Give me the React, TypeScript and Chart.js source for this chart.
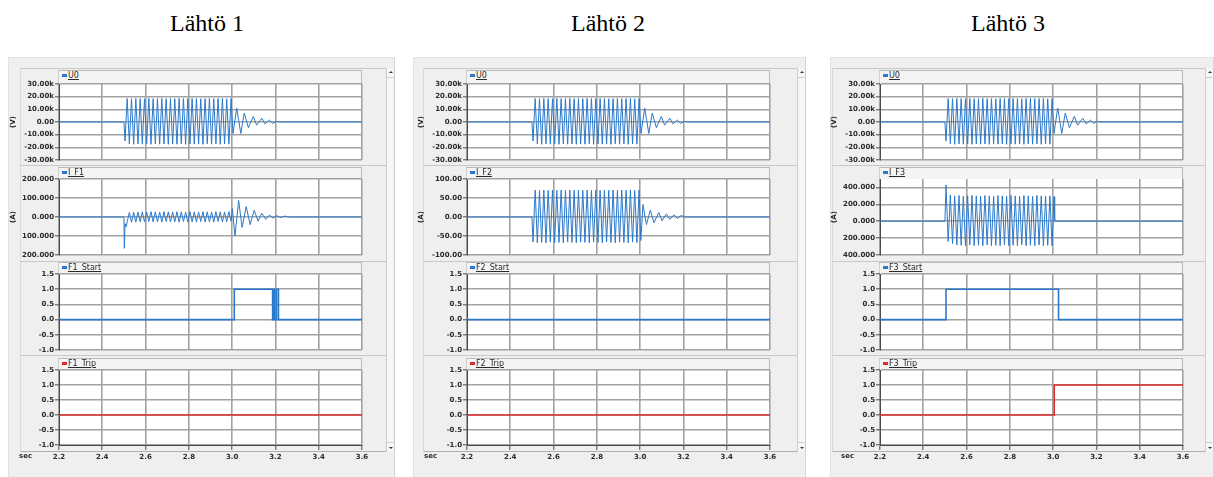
import React, { useEffect, useRef } from 'react';
import { Chart, registerables } from 'chart.js';

Chart.register(...registerables);

// ---------------- data ----------------
const TIME_START = 2.2;
const TIME_END = 3.6;
const X_TICKS = [2.2, 2.4, 2.6, 2.8, 3.0, 3.2, 3.4, 3.6];
const PANEL_TITLES = ['Lähtö 1', 'Lähtö 2', 'Lähtö 3'];
const SIGNAL_NAMES = [
  ['U0', 'I_F1', 'F1_Start', 'F1_Trip'],
  ['U0', 'I_F2', 'F2_Start', 'F2_Trip'],
  ['U0', 'I_F3', 'F3_Start', 'F3_Trip'],
];
const U0_TICKS = [-30000, -20000, -10000, 0, 10000, 20000, 30000];
const I_F1_TICKS = [-200, -100, 0, 100, 200];
const I_F2_TICKS = [-100, -50, 0, 50, 100];
const I_F3_TICKS = [-400, -200, 0, 200, 400];
const BIN_TICKS = [-1, -0.5, 0, 0.5, 1, 1.5];

// sampling grid of the fault waveforms: one value per half cycle (50 Hz)
const HALF_CYCLE = 0.01;
const FAULT_ON = 2.5;

// U0 (same in all three recordings), half-cycle extremes from 2.505 s
const U0_FAULT = [
  -15000, 18500, -17200, 18400, -17600, 18600, -17300, 18500, -17500, 18300,
  -17400, 18600, -17600, 18400, -17200, 18500, -17500, 18600, -17300, 18400,
  -17600, 18500, -17400, 18300, -17500, 18600, -17200, 18500, -17600, 18400,
  -17300, 18600, -17500, 18500, -17400, 18300, -17600, 18500, -17200, 18600,
  -17500, 18400, -17300, 18500, -17600, 18600, -17400, 18300, -17500, 18500,
];
const U0_DECAY: number[][] = [
  [3.004, -9000], [3.021, 11000], [3.04, -9000], [3.056, 7000], [3.075, -4500],
  [3.098, 4500], [3.113, -2500], [3.137, 3000], [3.152, -1500], [3.172, 1500],
  [3.187, -1000], [3.206, 500], [3.22, 0],
];

// I_F1
const I_F1_ONSET: number[][] = [[2.502, -165], [2.505, -35], [2.51, -52], [2.516, -20]];
const I_F1_FAULT_START = 2.525;
const I_F1_FAULT = [
  24, -28, 25, -27, 26, -25, 27, -26, 26, -24, 28, -26, 27, -25, 26, -27,
  28, -24, 27, -26, 26, -25, 28, -27, 27, -24, 26, -26, 28, -25, 27, -27,
  26, -24, 28, -26, 27, -25, 26, -27, 28, -24, 27, -26, 26, -25, 28, -22,
];
const I_F1_DECAY: number[][] = [
  [3.001, 45], [3.013, -100], [3.03, 87], [3.046, -55], [3.065, 55], [3.083, -40],
  [3.102, 35], [3.12, -22], [3.137, 20], [3.155, -12], [3.172, 10], [3.19, -6],
  [3.206, 7], [3.225, -3], [3.244, 5], [3.26, 0],
];

// I_F2, half-cycle extremes from 2.505 s
const I_F2_FAULT = [
  -66, 71, -68, 70, -67, 71, -68, 70, -66, 71, -68, 70, -67, 71, -68, 70,
  -66, 71, -67, 70, -68, 71, -66, 70, -67, 71, -68, 70, -66, 71, -67, 70,
  -68, 71, -66, 70, -67, 71, -68, 70, -66, 71, -67, 70, -68, 71, -66, 70,
  -67, 71,
];
const I_F2_DECAY: number[][] = [
  [3.003, -62], [3.013, 33], [3.029, -20], [3.047, 18], [3.064, -15], [3.086, 12],
  [3.101, -10], [3.121, 8], [3.137, -6], [3.157, 6], [3.172, -4], [3.19, 4], [3.206, 0],
];

// I_F3, half-cycle extremes from 2.505 s
const I_F3_FAULT = [
  430, -240, 310, -265, 300, -280, 305, -285, 295, -290, 300, -280, 305, -290,
  300, -285, 295, -290, 305, -280, 300, -290, 295, -285, 305, -290, 300, -280,
  295, -290, 305, -285, 300, -290, 295, -280, 305, -290, 300, -285, 295, -290,
  305, -280, 300, -290, 295, -285, 300, -290,
];
const I_F3_END: number[][] = [[3.004, 290], [3.007, 0]];

// binary signals: [time, level] at each change
const F1_START: number[][] = [[2.2, 0], [3.01, 1], [3.187, 0], [3.192, 1], [3.196, 0], [3.205, 1], [3.214, 0], [3.6, 0]];
const F1_TRIP: number[][] = [[2.2, 0], [3.6, 0]];
const F2_START: number[][] = [[2.2, 0], [3.6, 0]];
const F2_TRIP: number[][] = [[2.2, 0], [3.6, 0]];
const F3_START: number[][] = [[2.2, 0], [2.505, 1], [3.025, 0], [3.6, 0]];
const F3_TRIP: number[][] = [[2.2, 0], [3.005, 1], [3.6, 1]];

// ---------------- styling / layout ----------------
const BLUE = '#2b79cc';
const RED = '#dc2b2b';
const GRID = '#a2a2a2';
const AXIS = '#4a4a4a';
const TXT = '#2a2a2a';
const FONT = { family: '"DejaVu Sans", sans-serif', size: 7, weight: 'bold' };

const ROWS = [
  { frameT: 68, headT: 70, plotT: 84, plotB: 160 },
  { frameT: 165, headT: 167, plotT: 179, plotB: 255 },
  { frameT: 261, headT: 262, plotT: 274, plotB: 350 },
  { frameT: 355, headT: 358, plotT: 370, plotB: 445 },
];
const FRAME_BOTTOM = 452;
const PLOT_W = 303;
const PANEL_LAYOUT = [
  { boxL: 8, boxR: 395, frameL: 20, plotL: 59, titleX: 207 },
  { boxL: 413, boxR: 806, frameL: 423, plotL: 467, titleX: 608 },
  { boxL: 830, boxR: 1214, frameL: 832, plotL: 880, titleX: 1008 },
];

// ---------------- helpers ----------------
function grid(t0: number, values: number[]): number[][] {
  return values.map((v, i) => [t0 + i * HALF_CYCLE, v]);
}
function wave(parts: number[][][]): { x: number; y: number }[] {
  const pts: number[][] = [[TIME_START, 0], [FAULT_ON, 0]];
  parts.forEach((p) => pts.push(...p));
  pts.push([TIME_END, 0]);
  return pts.map(([x, y]) => ({ x, y }));
}
const toXY = (arr: number[][]) => arr.map(([x, y]) => ({ x, y }));

const fmtK = (v: number) => (v === 0 ? '0.00' : (v / 1000).toFixed(2) + 'k');
const fmtAbs3 = (v: number) => Math.abs(v).toFixed(3);
const fmt2 = (v: number) => v.toFixed(2);
const fmt1 = (v: number) => v.toFixed(1);

function rowsFor(i: number) {
  const u0 = {
    points: wave([grid(FAULT_ON + HALF_CYCLE / 2, U0_FAULT), U0_DECAY]),
    color: BLUE, width: 1, stepped: false,
    yMin: -30000, yMax: 30000, ticks: U0_TICKS, fmt: fmtK, title: '(V)',
  };
  const bin = { yMin: -1, yMax: 1.5, ticks: BIN_TICKS, fmt: fmt1, title: '', stepped: true, width: 1.6 };
  let cur: any;
  let start: number[][];
  let trip: number[][];
  if (i === 0) {
    cur = {
      points: wave([I_F1_ONSET, grid(I_F1_FAULT_START, I_F1_FAULT), I_F1_DECAY]),
      yMin: -200, yMax: 200, ticks: I_F1_TICKS, fmt: fmtAbs3,
    };
    start = F1_START; trip = F1_TRIP;
  } else if (i === 1) {
    cur = {
      points: wave([grid(FAULT_ON + HALF_CYCLE / 2, I_F2_FAULT), I_F2_DECAY]),
      yMin: -100, yMax: 100, ticks: I_F2_TICKS, fmt: fmt2,
    };
    start = F2_START; trip = F2_TRIP;
  } else {
    cur = {
      points: wave([grid(FAULT_ON + HALF_CYCLE / 2, I_F3_FAULT), I_F3_END]),
      yMin: -400, yMax: 500, ticks: I_F3_TICKS, fmt: fmtAbs3,
    };
    start = F3_START; trip = F3_TRIP;
  }
  return [
    u0,
    { ...cur, color: BLUE, width: 1, stepped: false, title: '(A)' },
    { ...bin, points: toXY(start), color: BLUE },
    { ...bin, points: toXY(trip), color: RED },
  ];
}

const bgPlugin = {
  id: 'plotBg',
  beforeDraw(chart: any) {
    const { ctx, chartArea: a } = chart;
    ctx.save();
    ctx.fillStyle = '#ffffff';
    ctx.fillRect(a.left, a.top, a.right - a.left, a.bottom - a.top);
    ctx.restore();
  },
};

function Plot(props: any) {
  const { left, top, w, h, cfg, showX } = props;
  const ref = useRef<HTMLCanvasElement>(null);
  const AXW = 54, PR = 12, PT = 8;
  const PB = showX ? 0 : 8;
  const XH = showX ? 24 : 0;
  const cw = AXW + w + PR;
  const ch = PT + h + PB + XH;

  useEffect(() => {
    if (!ref.current) return;
    const chart = new Chart(ref.current, {
      type: 'line',
      data: {
        datasets: [
          {
            data: cfg.points,
            borderColor: cfg.color,
            borderWidth: cfg.width,
            pointRadius: 0,
            tension: 0,
            stepped: cfg.stepped ? 'before' : false,
            fill: false,
          },
        ],
      },
      options: {
        animation: false,
        responsive: false,
        events: [],
        layout: { padding: { top: PT, right: PR, bottom: PB, left: 0 } },
        plugins: { legend: { display: false }, tooltip: { enabled: false } },
        scales: {
          x: {
            type: 'linear',
            min: TIME_START,
            max: TIME_END,
            afterBuildTicks: (s: any) => { s.ticks = X_TICKS.map((v) => ({ value: v })); },
            afterFit: (s: any) => { s.height = XH; },
            grid: { color: GRID, lineWidth: 1.6, drawTicks: showX, tickLength: 5, tickColor: AXIS, tickWidth: 1 },
            border: { display: showX, color: AXIS, width: 1 },
            ticks: {
              display: showX, font: FONT, color: TXT, padding: 3, maxRotation: 0, autoSkip: false,
              callback: (v: any) => Number(v).toFixed(1),
            },
          },
          y: {
            type: 'linear',
            min: cfg.yMin,
            max: cfg.yMax,
            afterBuildTicks: (s: any) => { s.ticks = cfg.ticks.map((v: number) => ({ value: v })); },
            afterFit: (s: any) => { s.width = AXW; },
            grid: { color: GRID, lineWidth: 1.6, drawTicks: true, tickLength: 4, tickColor: AXIS, tickWidth: 1 },
            border: { display: true, color: AXIS, width: 1 },
            ticks: { font: FONT, color: TXT, padding: 1, autoSkip: false, callback: (v: any) => cfg.fmt(Number(v)) },
            title: cfg.title
              ? { display: true, text: cfg.title, font: FONT, color: TXT, padding: { top: 4, bottom: 0 } }
              : { display: false },
          },
        },
      } as any,
      plugins: [bgPlugin],
    });
    return () => chart.destroy();
  }, []);

  return (
    <canvas
      ref={ref}
      width={cw}
      height={ch}
      style={{ position: 'absolute', left: left - AXW, top: top - PT, width: cw, height: ch, display: 'block' }}
    />
  );
}

function Header({ left, top, w, h, name, color }: any) {
  return (
    <div
      style={{
        position: 'absolute', left: left - 1, top, width: w + 1, height: h,
        boxSizing: 'border-box', background: '#f4f4f4',
        borderTop: '1px solid #b9b9b9', borderRight: '1px solid #b9b9b9', borderLeft: '1px solid #d0d0d0',
      }}
    >
      <div style={{ position: 'absolute', left: 3, top: 3, width: 5, height: 3, background: color }} />
      <div
        style={{
          position: 'absolute', left: 9, top: 0, font: '8px "DejaVu Sans", sans-serif', lineHeight: '10px',
          color: TXT, textDecoration: 'underline', whiteSpace: 'nowrap',
        }}
      >
        {name}
      </div>
    </div>
  );
}

function Panel({ idx }: { idx: number }) {
  const L = PANEL_LAYOUT[idx];
  const rows = rowsFor(idx);
  const scrollL = L.boxR - 9;
  return (
    <>
      <div
        style={{
          position: 'absolute', left: L.boxL, top: 57, width: L.boxR - L.boxL, height: 477 - 57,
          background: '#efefef', boxSizing: 'border-box', borderTop: '1px solid #e2e2e2',
          borderLeft: '1px solid #e2e2e2', borderRight: '1px solid #d6d6d6',
        }}
      />
      {ROWS.map((r, k) => {
        const nextT = k < ROWS.length - 1 ? ROWS[k + 1].frameT : FRAME_BOTTOM;
        return (
          <div
            key={'f' + k}
            style={{
              position: 'absolute', left: L.frameL, top: r.frameT, width: scrollL - L.frameL,
              height: nextT - r.frameT, boxSizing: 'border-box',
              borderTop: '1px solid #c8c8c8', borderLeft: '1px solid #dadada',
              borderBottom: k === ROWS.length - 1 ? '1px solid #b0b0b0' : 'none',
            }}
          />
        );
      })}
      {/* scrollbar */}
      <div
        style={{
          position: 'absolute', left: scrollL, top: 68, width: 9, height: FRAME_BOTTOM - 68,
          background: '#f7f7f7', boxSizing: 'border-box', borderLeft: '1px solid #cccccc', borderRight: '1px solid #cccccc',
        }}
      >
        <div style={{ position: 'absolute', left: 0, top: 0, width: 8, height: 10, borderBottom: '1px solid #d0d0d0', boxSizing: 'border-box' }}>
          <div style={{ position: 'absolute', left: 2, top: 3, width: 0, height: 0, borderLeft: '2px solid transparent', borderRight: '2px solid transparent', borderBottom: '2px solid #333' }} />
        </div>
        <div style={{ position: 'absolute', left: 0, bottom: 0, width: 8, height: 10, borderTop: '1px solid #d0d0d0', boxSizing: 'border-box' }}>
          <div style={{ position: 'absolute', left: 2, top: 4, width: 0, height: 0, borderLeft: '2px solid transparent', borderRight: '2px solid transparent', borderTop: '2px solid #333' }} />
        </div>
      </div>
      {ROWS.map((r, k) => (
        <React.Fragment key={'r' + k}>
          <Header
            left={L.plotL}
            top={r.headT}
            w={PLOT_W}
            h={r.plotT - r.headT}
            name={SIGNAL_NAMES[idx][k]}
            color={k === 3 ? RED : BLUE}
          />
          <Plot left={L.plotL} top={r.plotT} w={PLOT_W} h={r.plotB - r.plotT} cfg={rows[k]} showX={k === 3} />
        </React.Fragment>
      ))}
      <div
        style={{
          position: 'absolute', left: L.boxL + 11, top: 452, font: 'bold 7px "DejaVu Sans", sans-serif',
          color: TXT, lineHeight: '9px',
        }}
      >
        sec
      </div>
      <div
        style={{
          position: 'absolute', left: L.titleX - 100, top: 9, width: 200, textAlign: 'center',
          font: '24px "Liberation Serif", "Times New Roman", serif', lineHeight: '28px', color: '#000',
        }}
      >
        {PANEL_TITLES[idx]}
      </div>
    </>
  );
}

export default function App() {
  return (
    <div style={{ position: 'absolute', left: 0, top: 0, width: 1214, height: 477, background: '#ffffff', overflow: 'hidden' }}>
      {[0, 1, 2].map((i) => (
        <Panel key={i} idx={i} />
      ))}
    </div>
  );
}
